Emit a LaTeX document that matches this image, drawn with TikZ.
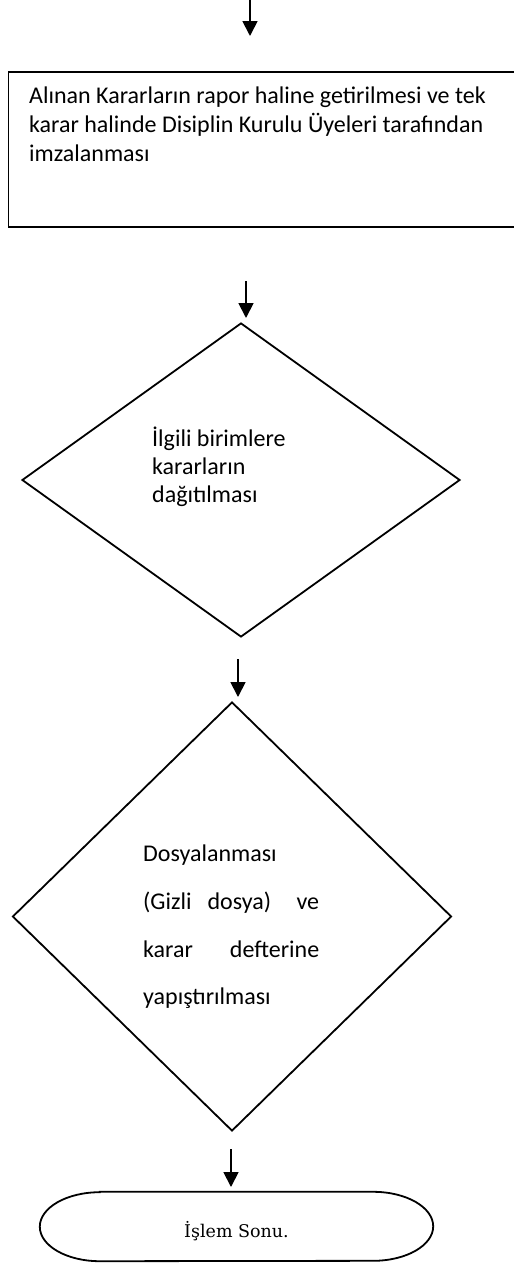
\documentclass[tikz,border=0pt]{standalone}
\usepackage{fontspec}
\setmainfont{Carlito}
\newfontfamily\sonufont{DejaVu Serif}
\usetikzlibrary{arrows.meta,shapes.geometric}

\begin{document}
\begin{tikzpicture}[x=1pt,y=1pt]

        % Setup the styles for the boxes and arrows
        \tikzset{box style/.style={draw,
                                   line width=1.8pt,
                                   inner sep=0pt},
                 karar style/.style={box style, shape=diamond},
                 text style/.style={inner sep=0pt,
                                    anchor=north west,
                                    align=flush left,
                                    font=\fontsize{24}{29}\selectfont},
                 arrow style/.style={line width=1.8pt,
                                     -{Triangle[width=15pt,length=15pt]}}}

        \clip (0,0) rectangle (514,-1267);

        % Draw the boxes
        \node[box style, anchor=north west, minimum width=540pt, minimum height=155pt] at (7.5,-71) (rapor) {};
        \node[text style, text width=480pt] at (29,-86.5) (raporText)
            {Alınan Kararların rapor haline getirilmesi ve tek\\
             karar halinde Disiplin Kurulu Üyeleri tarafından\\
             imzalanması};

        \node[karar style, minimum width=438pt, minimum height=314pt] at (241,-480) (dagitim) {};
        \node[text style, text width=200pt, font=\fontsize{24}{28}\selectfont] at (152,-427) (dagitimText)
            {İlgili birimlere\\ kararların\\ dağıtılması};

        \node[karar style, minimum width=439pt, minimum height=429pt] at (232,-916.5) (dosya) {};
        \node[text style, text width=176pt, font=\fontsize{24}{47.7}\selectfont] at (143,-845) (dosyaText)
            {Dosyalanması\\
             \makebox[176pt][l]{(Gizli\hspace{16pt}dosya)\hfill ve}\\
             \makebox[176pt][s]{karar defterine}\\
             yapıştırılması};

        \node[minimum width=393pt, minimum height=69pt, inner sep=0pt] at (236.5,-1226.5) (sonu) {};
        \draw[line width=1.8pt]
            ([xshift=60pt]sonu.north west) -- ([xshift=-60pt]sonu.north east)
            arc[start angle=90, end angle=-90, x radius=60pt, y radius=34.5pt]
            -- ([xshift=60pt]sonu.south west)
            arc[start angle=270, end angle=90, x radius=60pt, y radius=34.5pt]
            -- cycle;
        \node[inner sep=0pt, anchor=base, font=\sonufont\fontsize{17.5}{20}\selectfont] at (236.5,-1237.5) (sonuText) {İşlem Sonu.};

        % Free ends of the arrows
        \coordinate (g1) at (250,2);      \coordinate (c1) at (250,-36);
        \coordinate (g2) at (246,-281);   \coordinate (c2) at (246,-318);
        \coordinate (g3) at (238,-659);   \coordinate (c3) at (238,-697);
        \coordinate (g4) at (231,-1149);  \coordinate (c4) at (231,-1187);

        % Connect the steps with arrows
        \draw[arrow style] (g1) -- (c1);
        \draw[arrow style] (g2) -- (c2);
        \draw[arrow style] (g3) -- (c3);
        \draw[arrow style] (g4) -- (c4);
\end{tikzpicture}
\end{document}
